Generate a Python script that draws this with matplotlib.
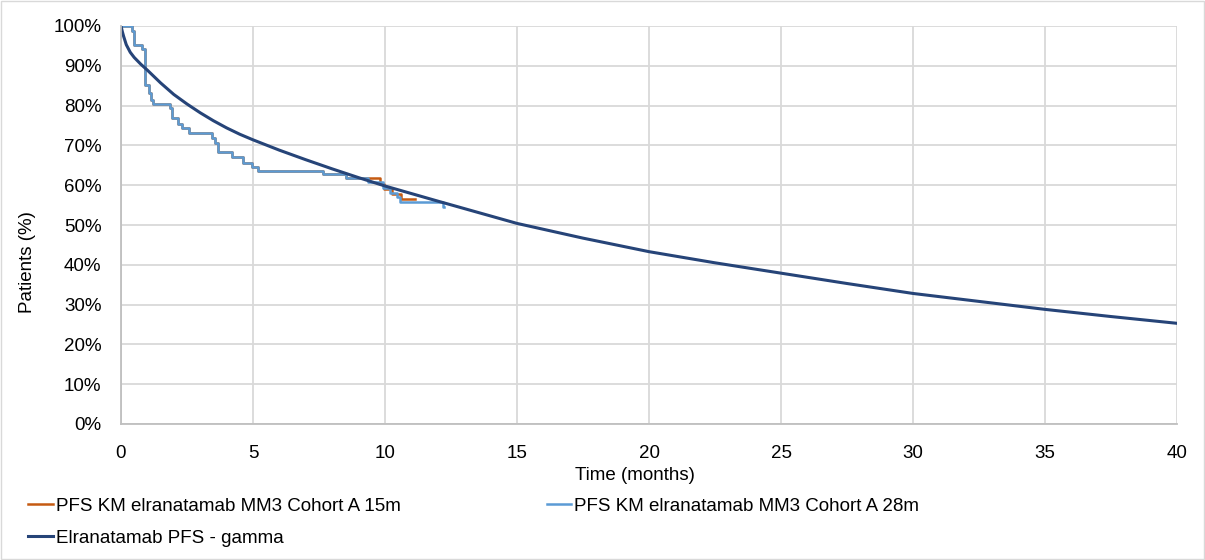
import matplotlib
matplotlib.use("Agg")
import matplotlib.pyplot as plt
from matplotlib.ticker import FuncFormatter
from matplotlib.patches import Rectangle

plt.rcParams['font.family'] = ['Liberation Sans', 'DejaVu Sans']

# KM 28m cohort (time of step, PFS % after step)
km28_t = [0, 0.40, 0.50, 0.78, 0.91, 1.05, 1.15, 1.22, 1.86, 1.95, 2.17, 2.30, 2.59,
          3.43, 3.55, 3.69, 4.19, 4.63, 4.95, 5.20, 7.64, 8.52, 9.37, 9.94, 10.20, 10.44,
          10.57, 12.20, 12.25]
km28_s = [100, 98.8, 95.2, 94.1, 85.2, 83.1, 81.4, 80.4, 79.3, 76.8, 75.5, 74.3, 73.0,
          71.8, 70.5, 68.4, 67.2, 65.5, 64.6, 63.6, 62.8, 61.7, 60.8, 59.2, 58.0, 57.0,
          55.9, 54.6, 54.6]

# KM 15m cohort
km15_t = [0, 0.40, 0.50, 0.78, 0.91, 1.05, 1.15, 1.22, 1.86, 1.95, 2.17, 2.30, 2.59,
          3.43, 3.55, 3.69, 4.19, 4.63, 4.95, 5.20, 7.64, 8.52, 9.80, 9.95, 10.25, 10.60,
          11.14]
km15_s = [100, 98.8, 95.2, 94.1, 85.2, 83.1, 81.4, 80.4, 79.3, 76.8, 75.5, 74.3, 73.0,
          71.8, 70.5, 68.4, 67.2, 65.5, 64.6, 63.6, 62.8, 61.7, 60.3, 59.0, 57.8, 56.5,
          56.5]

# gamma fit
gam_t = [0, 0.05, 0.1, 0.2, 0.35, 0.5, 0.75, 1, 1.5, 2, 2.5, 3, 3.5, 4, 4.5, 5, 6, 7, 8, 9,
         10, 12, 15, 17.5, 20, 22.5, 25, 27.5, 30, 32.5, 35, 37.5, 40]
gam_s = [100, 98.6, 97.4, 95.3, 93.4, 92.1, 90.4, 88.9, 85.7, 82.8, 80.4, 78.2, 76.2,
         74.4, 72.8, 71.4, 68.8, 66.4, 64.1, 61.9, 59.8, 56.0, 50.4, 46.7, 43.3, 40.5,
         37.9, 35.3, 32.8, 30.8, 28.8, 27.0, 25.3]

fig = plt.figure(figsize=(12.05, 5.6), dpi=100)
ax = fig.add_axes([121 / 1205, 1 - 424 / 560, (1177 - 121) / 1205, (424 - 26) / 560])

c15 = '#C55A11'
c28 = '#5B9BD5'
cgam = '#264478'

l15, = ax.step(km15_t, km15_s, where='post', color=c15, lw=1.8,
               label='PFS KM elranatamab MM3 Cohort A 15m')
l28, = ax.step(km28_t, km28_s, where='post', color=c28, lw=1.8,
               label='PFS KM elranatamab MM3 Cohort A 28m')
lg, = ax.plot(gam_t, gam_s, color=cgam, lw=2.2, label='Elranatamab PFS - gamma')

ax.set_xlim(0, 40)
ax.set_ylim(0, 100)
ax.set_xticks(range(0, 41, 5))
ax.set_yticks(range(0, 101, 10))
ax.yaxis.set_major_formatter(FuncFormatter(lambda v, p: '%d%%' % v))
ax.grid(True, color='#d9d9d9', lw=1.3)
ax.set_axisbelow(True)
for s in ['top', 'right']:
    ax.spines[s].set_visible(False)
for s in ['left', 'bottom']:
    ax.spines[s].set_color('#bfbfbf')
    ax.spines[s].set_linewidth(1.3)
ax.tick_params(length=0, labelsize=13.5, colors='black')
ax.tick_params(axis='x', pad=15)
ax.tick_params(axis='y', pad=14)

fig.text(635 / 1205, 1 - 476 / 560, 'Time (months)', fontsize=13.5, ha='center', va='center')
fig.text(27 / 1205, 1 - 262 / 560, 'Patients (%)', fontsize=13.5, ha='center', va='center',
         rotation=90)

# order so rows read 15m, 28m / gamma
fig.legend([l15, lg, l28], [l15.get_label(), lg.get_label(), l28.get_label()],
           loc='lower left', bbox_to_anchor=(0.0095, -0.007), ncol=2, frameon=False,
           fontsize=13.5, handlelength=1.3, handletextpad=0.15, columnspacing=7.8,
           labelspacing=0.82)

fig.patches.append(Rectangle((0.0008, 0.001), 0.998, 0.997, transform=fig.transFigure,
                             fill=False, edgecolor='#d9d9d9', lw=1))

fig.savefig('out.png', dpi=100)
